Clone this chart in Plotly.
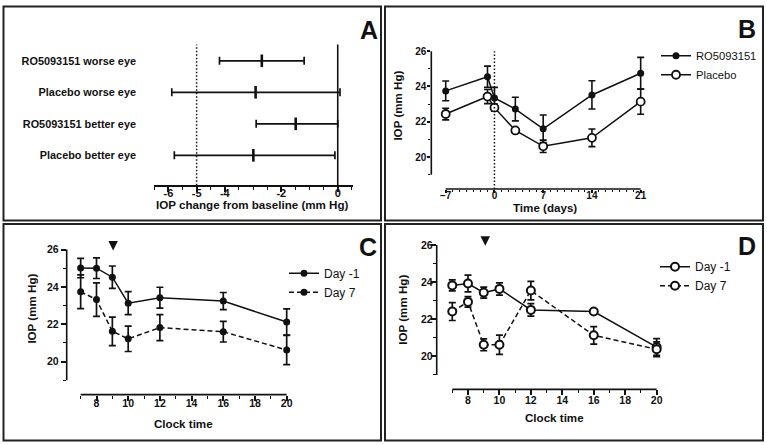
import plotly.graph_objects as go

# ---------------- data ----------------
A_LABELS = ["RO5093151 worse eye", "Placebo worse eye", "RO5093151 better eye", "Placebo better eye"]
A_POS = [3, 2, 1, 0]
A_MEAN = [-2.69, -2.91, -1.49, -2.99]
A_LOW = [-4.19, -5.88, -2.89, -5.79]
A_HIGH = [-1.19, 0.08, 0.0, -0.10]
A_TICKS = [-6, -5, -4, -2, 0]

B_DAYS = [-7, -1, 0, 3, 7, 14, 21]
B_RO = [23.75, 24.55, 23.35, 22.72, 21.60, 23.52, 24.75]
B_RO_SEM = [0.56, 0.60, 0.60, 0.67, 0.78, 0.80, 0.90]
B_PBO = [22.44, 23.43, 22.80, 21.51, 20.61, 21.09, 23.14]
B_PBO_SEM = [0.33, 0.40, 0.20, 0.15, 0.35, 0.50, 0.71]
B_XTICKS = [-7, 0, 7, 14, 21]

CLOCK = [7, 8, 9, 10, 12, 16, 20]
C_D1 = [25.01, 25.00, 24.52, 23.13, 23.42, 23.24, 22.12]
C_D1_SEM = [0.52, 0.55, 0.60, 0.62, 0.56, 0.46, 0.70]
C_D7 = [23.74, 23.32, 21.62, 21.22, 21.82, 21.60, 20.62]
C_D7_SEM = [0.90, 0.90, 0.76, 0.68, 0.70, 0.55, 0.78]

D_D1 = [23.82, 23.92, 23.43, 23.63, 22.50, 22.41, 20.50]
D_D1_SEM = [0.30, 0.45, 0.30, 0.33, 0.34, 0.10, 0.45]
D_D7 = [22.41, 22.93, 20.62, 20.62, 23.54, 21.13, 20.38]
D_D7_SEM = [0.48, 0.28, 0.32, 0.52, 0.50, 0.47, 0.40]

CLOCK_TICKS = [8, 10, 12, 14, 16, 18, 20]
CLOCK_MINOR = [7, 9, 11, 13, 15, 17, 19]
IOP_TICKS = [20, 22, 24, 26]
IOP_MINOR = [19, 21, 23, 25]
DOSE_C = [9.05]
DOSE_D = [9.1]
DOSE_Y = [25.95]

# ---------------- helpers ----------------
W, H = 767, 445
FONT = "Liberation Sans, Arial, sans-serif"
BLK = "#111111"


def px(x):
    return x / W


def py(y):
    return 1 - y / H


fig = go.Figure()

# ---------- Panel A ----------
fig.add_trace(go.Scatter(
    x=A_MEAN, y=A_POS, mode="markers", xaxis="x", yaxis="y", showlegend=False,
    marker=dict(symbol="line-ns", size=9, line=dict(width=2.6, color=BLK), color=BLK),
    error_x=dict(type="data", symmetric=False,
                 array=[h - m for h, m in zip(A_HIGH, A_MEAN)],
                 arrayminus=[m - l for m, l in zip(A_MEAN, A_LOW)],
                 color=BLK, thickness=1.7, width=4),
    cliponaxis=False,
))

# ---------- Panel B ----------
fig.add_trace(go.Scatter(
    x=B_DAYS, y=B_RO, mode="lines+markers", name="RO5093151", xaxis="x2", yaxis="y2",
    legend="legend2",
    line=dict(color=BLK, width=1.5),
    marker=dict(symbol="circle", size=7, color=BLK),
    error_y=dict(type="data", array=B_RO_SEM, color=BLK, thickness=1.6, width=3.5),
    cliponaxis=False,
))
fig.add_trace(go.Scatter(
    x=B_DAYS, y=B_PBO, mode="lines+markers", name="Placebo", xaxis="x2", yaxis="y2",
    legend="legend2",
    line=dict(color=BLK, width=1.5),
    marker=dict(symbol="circle", size=8, color="white", line=dict(color=BLK, width=1.8)),
    error_y=dict(type="data", array=B_PBO_SEM, color=BLK, thickness=1.6, width=3.5),
    cliponaxis=False,
))

# ---------- Panel C ----------
fig.add_trace(go.Scatter(
    x=CLOCK, y=C_D1, mode="lines+markers", name="Day -1", xaxis="x3", yaxis="y3",
    legend="legend3",
    line=dict(color=BLK, width=1.5),
    marker=dict(symbol="circle", size=7, color=BLK),
    error_y=dict(type="data", array=C_D1_SEM, color=BLK, thickness=1.7, width=3.5),
    cliponaxis=False,
))
fig.add_trace(go.Scatter(
    x=CLOCK, y=C_D7, mode="lines+markers", name="Day 7", xaxis="x3", yaxis="y3",
    legend="legend3",
    line=dict(color=BLK, width=1.5, dash="5px,3px"),
    marker=dict(symbol="circle", size=7, color=BLK),
    error_y=dict(type="data", array=C_D7_SEM, color=BLK, thickness=1.7, width=3.5),
    cliponaxis=False,
))
fig.add_trace(go.Scatter(
    x=DOSE_C, y=DOSE_Y, mode="markers", xaxis="x3", yaxis="y3", showlegend=False,
    marker=dict(symbol="arrow-down", size=9.5, color=BLK), cliponaxis=False,
))

# ---------- Panel D ----------
fig.add_trace(go.Scatter(
    x=CLOCK, y=D_D1, mode="lines+markers", name="Day -1", xaxis="x4", yaxis="y4",
    legend="legend4",
    line=dict(color=BLK, width=1.5),
    marker=dict(symbol="circle", size=8, color="white", line=dict(color=BLK, width=2)),
    error_y=dict(type="data", array=D_D1_SEM, color=BLK, thickness=1.7, width=3.5),
    cliponaxis=False,
))
fig.add_trace(go.Scatter(
    x=CLOCK, y=D_D7, mode="lines+markers", name="Day 7", xaxis="x4", yaxis="y4",
    legend="legend4",
    line=dict(color=BLK, width=1.5, dash="5px,3px"),
    marker=dict(symbol="circle", size=8, color="white", line=dict(color=BLK, width=2)),
    error_y=dict(type="data", array=D_D7_SEM, color=BLK, thickness=1.7, width=3.5),
    cliponaxis=False,
))
fig.add_trace(go.Scatter(
    x=DOSE_D, y=DOSE_Y, mode="markers", xaxis="x4", yaxis="y4", showlegend=False,
    marker=dict(symbol="arrow-down", size=9.5, color=BLK), cliponaxis=False,
))


def tf(size):
    return dict(family=FONT, size=size, color=BLK, weight="bold")


def ax_common(ticklen=5):
    return dict(showgrid=False, zeroline=False, ticks="outside", tickcolor=BLK,
                tickwidth=1.5, ticklen=ticklen, fixedrange=True)


def minor(vals=None, dtick=None, ticklen=3):
    m = dict(ticklen=ticklen, tickwidth=1.3, tickcolor=BLK, ticks="outside")
    if vals is not None:
        m["tickvals"] = vals
    else:
        m["dtick"] = dtick
        m["tick0"] = 0
    return m


layout = dict(
    width=W, height=H, margin=dict(l=0, r=0, t=0, b=0),
    paper_bgcolor="white", plot_bgcolor="rgba(0,0,0,0)",
    font=dict(family=FONT, color=BLK),
    # Panel A
    xaxis=dict(domain=[px(154), px(352.7)], range=[-6.51, 0.53], anchor="y",
               showline=True, linecolor=BLK, linewidth=1.6,
               tickvals=A_TICKS, ticktext=[str(v) for v in A_TICKS],
               minor=minor(dtick=0.5), tickfont=tf(11), ticklabelstandoff=-8,
               **ax_common()),
    yaxis=dict(domain=[py(183.5), py(41.7)], range=[-0.95, 3.52], anchor="x",
               showline=False, showgrid=False, zeroline=False, ticks="",
               tickvals=A_POS, ticktext=A_LABELS, ticklabelstandoff=17,
               tickfont=tf(10.9), fixedrange=True),
    # Panel B
    xaxis2=dict(domain=[px(431.3), px(650)], range=[-9.07, 22.34], anchor="y2",
                showline=False, tickvals=B_XTICKS,
                minor=minor([d for d in range(-7, 22) if d not in B_XTICKS], ticklen=2),
                tickfont=tf(10), ticklabelstandoff=-6, **ax_common(3)),
    yaxis2=dict(domain=[py(187.3), py(46)], range=[18.19, 26.14], anchor="x2",
                showline=False, tickvals=IOP_TICKS, minor=minor(IOP_MINOR, ticklen=2),
                tickfont=tf(10), ticklabelstandoff=-1, **ax_common(3)),
    # Panel C
    xaxis3=dict(domain=[px(66.7), px(300)], range=[6.12, 20.84], anchor="y3",
                showline=False, tickvals=CLOCK_TICKS, minor=minor(CLOCK_MINOR),
                tickfont=tf(10.5), ticklabelstandoff=-6, **ax_common()),
    yaxis3=dict(domain=[py(394.3), py(236)], range=[18.23, 26.65], anchor="x3",
                showline=False, tickvals=IOP_TICKS, minor=minor(IOP_MINOR),
                tickfont=tf(10.5), **ax_common()),
    # Panel D
    xaxis4=dict(domain=[px(436.7), px(670)], range=[6.01, 20.85], anchor="y4",
                showline=False, tickvals=CLOCK_TICKS, minor=minor(CLOCK_MINOR),
                tickfont=tf(10.5), ticklabelstandoff=-4, **ax_common()),
    yaxis4=dict(domain=[py(389), py(234)], range=[18.22, 26.51], anchor="x4",
                showline=False, tickvals=IOP_TICKS, minor=minor(IOP_MINOR),
                tickfont=tf(10.5), ticklabelstandoff=-4, **ax_common()),
    legend2=dict(x=px(656), y=py(38.5), xanchor="left", yanchor="top", bgcolor="rgba(0,0,0,0)",
                 font=dict(family=FONT, size=11.2, color=BLK), itemwidth=30),
    legend3=dict(x=px(284), y=py(257.5), xanchor="left", yanchor="top", bgcolor="rgba(0,0,0,0)",
                 font=dict(family=FONT, size=12, color=BLK), itemwidth=30),
    legend4=dict(x=px(655), y=py(251), xanchor="left", yanchor="top", bgcolor="rgba(0,0,0,0)",
                 font=dict(family=FONT, size=12, color=BLK), itemwidth=30),
)
fig.update_layout(**layout)

shapes = []
# panel borders
for (x0, y0, x1, y1) in [(3.5, 3.5, 381, 219), (385, 3.5, 763, 219),
                         (3.5, 222.5, 381, 440.5), (385, 222.5, 763, 440.5)]:
    shapes.append(dict(type="rect", xref="paper", yref="paper", x0=px(x0), x1=px(x1),
                       y0=py(y1), y1=py(y0), line=dict(color="#222222", width=2)))
# Panel A reference lines
shapes.append(dict(type="line", xref="x", yref="y domain", x0=0, x1=0, y0=0, y1=1,
                   line=dict(color=BLK, width=1.6)))
shapes.append(dict(type="line", xref="x", yref="y domain", x0=-5, x1=-5, y0=0, y1=1,
                   line=dict(color=BLK, width=1.5, dash="1.5px,2px")))
# Panel B axis lines + dotted line
shapes.append(dict(type="line", xref="x2 domain", yref="y2", x0=0, x1=0, y0=19, y1=26,
                   line=dict(color=BLK, width=1.6)))
shapes.append(dict(type="line", xref="x2", yref="y2 domain", x0=-7, x1=21, y0=0, y1=0,
                   line=dict(color=BLK, width=1.6)))
shapes.append(dict(type="line", xref="x2", yref="y2", x0=0, x1=0, y0=18.19, y1=26,
                   line=dict(color=BLK, width=1.5, dash="1.5px,2px")))
# Panel C axis lines
shapes.append(dict(type="line", xref="x3 domain", yref="y3", x0=0, x1=0, y0=19, y1=26,
                   line=dict(color=BLK, width=1.6)))
shapes.append(dict(type="line", xref="x3", yref="y3 domain", x0=7, x1=20, y0=0, y1=0,
                   line=dict(color=BLK, width=1.6)))
# Panel D axis lines
shapes.append(dict(type="line", xref="x4 domain", yref="y4", x0=0, x1=0, y0=19, y1=26,
                   line=dict(color=BLK, width=1.6)))
shapes.append(dict(type="line", xref="x4", yref="y4 domain", x0=7, x1=20, y0=0, y1=0,
                   line=dict(color=BLK, width=1.6)))
fig.update_layout(shapes=shapes)

ann = []
for letter, x, y in [("A", 369.3, 26.7), ("B", 747.3, 25.8), ("C", 367.5, 245.3), ("D", 746.5, 244.8)]:
    ann.append(dict(text=letter, xref="paper", yref="paper", x=px(x), y=py(y), showarrow=False,
                    xanchor="center", yanchor="middle", font=tf(25)))
for text, x, y, rot in [("IOP change from baseline (mm Hg)", 252, 203, 0),
                        ("Time (days)", 545, 206, 0),
                        ("IOP (mm Hg)", 397.3, 103, -90),
                        ("Clock time", 183.5, 423, 0),
                        ("IOP (mm Hg)", 31.7, 308, -90),
                        ("Clock time", 554.5, 417.5, 0),
                        ("IOP (mm Hg)", 402.3, 308.5, -90)]:
    ann.append(dict(text=text, xref="paper", yref="paper", x=px(x), y=py(y), showarrow=False,
                    xanchor="center", yanchor="middle", textangle=rot, font=tf(11.6)))
fig.update_layout(annotations=ann)

fig.write_html("out.html", config={"displayModeBar": False},
               post_script="document.body.style.margin='0';document.body.style.overflow='hidden';")
